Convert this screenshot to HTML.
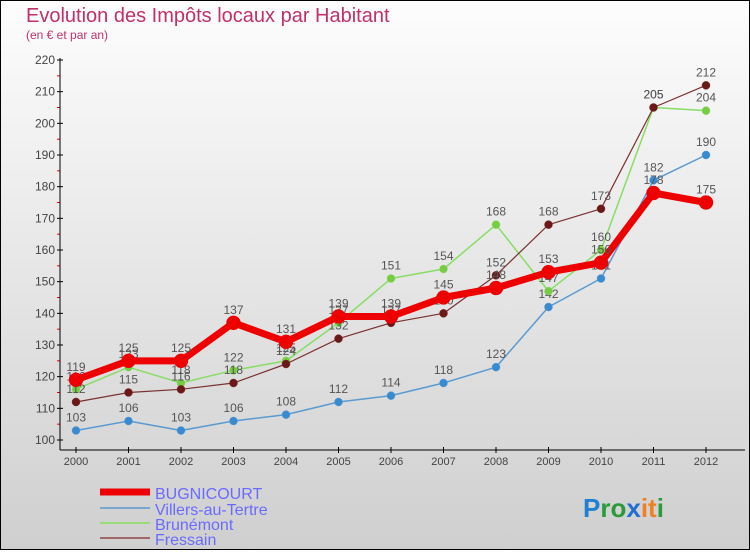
<!DOCTYPE html>
<html><head><meta charset="utf-8"><style>
body{margin:0;width:750px;height:550px;overflow:hidden;font-family:"Liberation Sans",sans-serif}
svg text{font-family:"Liberation Sans",sans-serif}
</style></head><body>
<svg id="c" width="750" height="550" xmlns="http://www.w3.org/2000/svg">
<defs><linearGradient id="bg" x1="0" y1="0" x2="0" y2="1"><stop offset="0" stop-color="#fdfdfd"/><stop offset="1" stop-color="#cfcfcf"/></linearGradient></defs>
<rect x="0.5" y="0.5" width="749" height="549" fill="url(#bg)" stroke="#000"/>
<text x="26" y="22" font-size="20" fill="#c0306a">Evolution des Impôts locaux par Habitant</text>
<text x="26" y="39" font-size="12" fill="#c0306a">(en € et par an)</text>
<g id="axes"></g><g id="series"></g>
<g>
<line x1="100" y1="492" x2="150" y2="492" stroke="#ee0000" stroke-width="7"/>
<text x="155" y="499" font-size="16" fill="#6a6aff">BUGNICOURT</text>
<line x1="100" y1="508" x2="150" y2="508" stroke="#7aa7d0" stroke-width="2"/>
<text x="155" y="515" font-size="16" fill="#6a6aff">Villers-au-Tertre</text>
<line x1="100" y1="523" x2="150" y2="523" stroke="#99dd77" stroke-width="2"/>
<text x="155" y="530" font-size="16" fill="#6a6aff">Brunémont</text>
<line x1="100" y1="538" x2="150" y2="538" stroke="#a06868" stroke-width="2"/>
<text x="155" y="545" font-size="16" fill="#6a6aff">Fressain</text>
</g>
<text x="583" y="517" font-size="26" font-weight="bold"><tspan fill="#1f7fd0">P</tspan><tspan fill="#2a9a3a">ro</tspan><tspan fill="#1f6fd0">x</tspan><tspan fill="#f08020">it</tspan><tspan fill="#2a9a3a">i</tspan></text>
</svg>
<script>
const years=[2000,2001,2002,2003,2004,2005,2006,2007,2008,2009,2010,2011,2012];
const yTicks=[100,110,120,130,140,150,160,170,180,190,200,210,220];
const bugnicourt=[119,125,125,137,131,139,139,145,148,153,156,178,175];
const villers=[103,106,103,106,108,112,114,118,123,142,151,182,190];
const brunemont=[116,123,118,122,125,137,151,154,168,147,160,205,204];
const fressain=[112,115,116,118,124,132,137,140,152,168,173,205,212];
const NS="http://www.w3.org/2000/svg";
const X=y=>76+(y-2000)*52.5;
const Y=v=>440-(v-100)*3.1667;
function mk(t,a,p){const e=document.createElementNS(NS,t);for(const k in a)e.setAttribute(k,a[k]);(p||document.getElementById('c')).appendChild(e);return e;}
const ax=document.getElementById('axes');
yTicks.forEach((v,i)=>{
 mk('line',{x1:57,y1:Y(v),x2:63,y2:Y(v),stroke:'#000'},ax);
 if(i<yTicks.length-1)mk('line',{x1:57,y1:Y(v+5),x2:60,y2:Y(v+5),stroke:'#e00'},ax);
 const t=mk('text',{x:55,y:Y(v)+4,'font-size':12,fill:'#444','text-anchor':'end'},ax);t.textContent=v;
 
 
});
const ya=mk('line',{x1:60,y1:58,x2:60,y2:450,stroke:'#000'},ax);


const xa=mk('line',{x1:60,y1:450,x2:745,y2:450,stroke:'#000'},ax);


years.forEach(y=>{
 mk('line',{x1:X(y),y1:447,x2:X(y),y2:453,stroke:'#000'},ax);
 const t=mk('text',{x:X(y),y:465,'font-size':11,fill:'#444','text-anchor':'middle'},ax);t.textContent=y;
 
 
});
const sg=document.getElementById('series');
function series(name,vals,color,w,r,dot){
 const g=mk('g',{},sg);
 
 
 mk('polyline',{points:vals.map((v,i)=>X(years[i])+','+Y(v)).join(' '),fill:'none',stroke:color,'stroke-width':w,'stroke-linejoin':'round'},g);
 vals.forEach((v,i)=>{
  const c=mk('circle',{cx:X(years[i]),cy:Y(v),r:r,fill:dot,stroke:color,'stroke-width':0.5},g);
  
  
  const t=mk('text',{x:X(years[i]),y:Y(v)-9,'font-size':12,fill:'#555','text-anchor':'middle'},g);t.textContent=v;
 });
}
series('villers',villers,'#5a9ad0',1.5,4,'#3a8ad0');
series('brunemont',brunemont,'#88dd66',1.5,4,'#77cc44');
series('fressain',fressain,'#7a3030',1.2,4,'#6a1818');
series('bugnicourt',bugnicourt,'#ee0000',7,7,'#ee0000');
</script>
</body></html>
